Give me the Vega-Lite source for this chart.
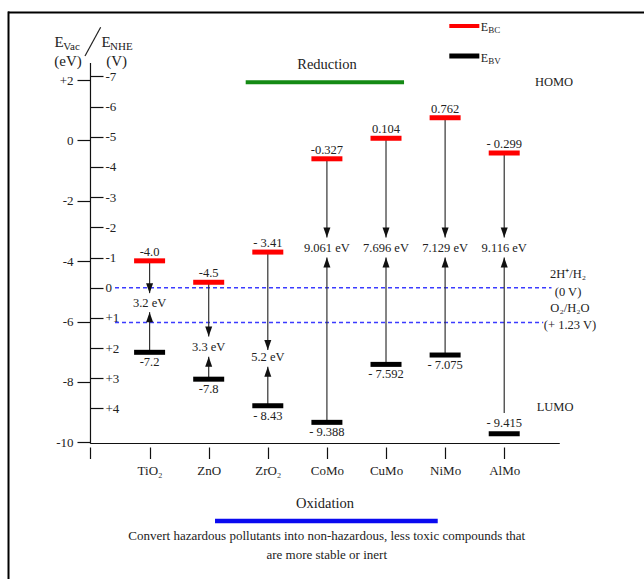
{
  "$schema": "https://vega.github.io/schema/vega-lite/v6.json",
  "width": 644,
  "height": 579,
  "autosize": {"type": "none"},
  "padding": 0,
  "background": "white",
  "config": {
    "font": "Liberation Serif",
    "view": {"stroke": null},
    "text": {"font": "Liberation Serif", "color": "#222"}
  },
  "datasets": {
    "mat": [
      {"i": 1, "name": "TiO2", "cb": -3.99, "cb_lab": "-4.0", "vb": -7.02, "vb_from": -7.02, "vb_lab": "-7.2", "gap": "3.2 eV", "gap_y": -5.38, "cb_tip": -5.06, "vb_tip": -5.69},
      {"i": 2, "name": "ZnO", "cb": -4.70, "cb_lab": "-4.5", "vb": -7.91, "vb_from": -7.91, "vb_lab": "-7.8", "gap": "3.3 eV", "gap_y": -6.85, "cb_tip": -6.50, "vb_tip": -7.17},
      {"i": 3, "name": "ZrO2", "cb": -3.70, "cb_lab": "- 3.41", "vb": -8.79, "vb_from": -8.79, "vb_lab": "- 8.43", "gap": "5.2 eV", "gap_y": -7.19, "cb_tip": -6.94, "vb_tip": -7.50},
      {"i": 4, "name": "CoMo", "cb": -0.61, "cb_lab": "-0.327", "vb": -9.34, "vb_from": -9.34, "vb_lab": "- 9.388", "gap": "9.061 eV", "gap_y": -3.575, "cb_tip": -3.22, "vb_tip": -3.88},
      {"i": 5, "name": "CuMo", "cb": 0.07, "cb_lab": "0.104", "vb": -7.42, "vb_from": -7.42, "vb_lab": "- 7.592", "gap": "7.696 eV", "gap_y": -3.575, "cb_tip": -3.22, "vb_tip": -3.88},
      {"i": 6, "name": "NiMo", "cb": 0.75, "cb_lab": "0.762", "vb": -7.11, "vb_from": -7.11, "vb_lab": "- 7.075", "gap": "7.129 eV", "gap_y": -3.575, "cb_tip": -3.22, "vb_tip": -3.88},
      {"i": 7, "name": "AlMo", "cb": -0.42, "cb_lab": "- 0.299", "vb": -9.72, "vb_from": -9.03, "vb_lab": "- 9.415", "gap": "9.116 eV", "gap_y": -3.575, "cb_tip": -3.22, "vb_tip": -3.88}
    ]
  },
  "resolve": {"scale": {"x": "shared", "y": "shared"}, "axis": {"x": "independent", "y": "independent"}},
  "layer": [
    {
      "data": {"values": [{"x": 0, "y": 2.56, "y2": -10.05}]},
      "mark": {"type": "rule", "color": "#111", "strokeWidth": 1.2},
      "encoding": {
        "x": {"field": "x", "type": "quantitative",
          "scale": {"domain": [-1.531, 9.365], "nice": false, "zero": false},
          "axis": {"orient": "bottom", "offset": -132, "values": [0, 1, 2, 3, 4, 5, 6, 7], "domain": false, "grid": false,
            "tickSize": 11.5, "tickColor": "#111", "tickWidth": 1.2, "labelPadding": 6, "labelFont": "Liberation Serif", "labelFontSize": 13, "labelColor": "#222",
            "labelExpr": "['', 'TiO₂', 'ZnO', 'ZrO₂', 'CoMo', 'CuMo', 'NiMo', 'AlMo'][datum.value]", "labelOverlap": false, "labelFlush": false, "title": null}},
        "y": {"field": "y", "type": "quantitative",
          "scale": {"domain": [-14.529, 4.650], "nice": false, "zero": false},
          "axis": {"orient": "left", "offset": -90.5, "values": [2, 0, -2, -4, -6, -8, -10], "domain": false, "grid": false,
            "tickSize": 13.5, "tickColor": "#111", "tickWidth": 1.2, "labelPadding": 4, "labelFont": "Liberation Serif", "labelFontSize": 13, "labelColor": "#222",
            "labelExpr": "datum.value > 0 ? '+' + datum.value : '' + datum.value", "labelOverlap": false, "labelFlush": false, "title": null}},
        "y2": {"field": "y2"}
      }
    },
    {
      "data": {"values": [{"x": 0, "x2": 7.94, "y": -10.04}]},
      "mark": {"type": "rule", "color": "#111", "strokeWidth": 1.2},
      "encoding": {
        "x": {"field": "x", "type": "quantitative", "axis": null},
        "x2": {"field": "x2"},
        "y": {"field": "y", "type": "quantitative",
          "axis": {"orient": "right", "offset": -553.5, "values": [2.12, 1.12, 0.12, -0.88, -1.88, -2.88, -3.88, -4.88, -5.88, -6.88, -7.88, -8.88], "domain": false, "grid": false,
            "tickSize": 12.5, "tickColor": "#111", "tickWidth": 1.2, "labelPadding": 2, "labelFont": "Liberation Serif", "labelFontSize": 13, "labelColor": "#222",
            "labelExpr": "round(-4.88 - datum.value) > 0 ? '+' + round(-4.88 - datum.value) : '' + round(-4.88 - datum.value)", "labelOverlap": false, "labelFlush": false, "title": null}}
      }
    },
    {
      "data": {"values": [{"x": -1.396, "x2": 9.6, "y": 4.236, "y2": 4.236}, {"x": -1.387, "x2": -1.387, "y": 4.27, "y2": -15}]},
      "mark": {"type": "rule", "color": "#000", "strokeWidth": 2},
      "encoding": {
        "x": {"field": "x", "type": "quantitative", "axis": null},
        "x2": {"field": "x2"},
        "y": {"field": "y", "type": "quantitative", "axis": null},
        "y2": {"field": "y2"}
      }
    },
    {
      "data": {"values": [{"x": 0.415, "x2": 7.80, "y": -4.88}, {"x": 0.415, "x2": 7.66, "y": -6.03}]},
      "mark": {"type": "rule", "color": "#3b3bff", "strokeWidth": 1.5, "strokeDash": [4, 3]},
      "encoding": {
        "x": {"field": "x", "type": "quantitative", "axis": null},
        "x2": {"field": "x2"},
        "y": {"field": "y", "type": "quantitative", "axis": null}
      }
    },
    {
      "data": {"values": [{"x": -0.093, "x2": 0.172, "y": 2.795, "y2": 3.745}]},
      "mark": {"type": "rule", "color": "#222", "strokeWidth": 1.2},
      "encoding": {
        "x": {"field": "x", "type": "quantitative", "axis": null},
        "x2": {"field": "x2"},
        "y": {"field": "y", "type": "quantitative", "axis": null},
        "y2": {"field": "y2"}
      }
    },
    {
      "data": {"values": [{"x": 2.626, "x2": 5.305, "y": 1.924}]},
      "mark": {"type": "rule", "color": "#148a14", "strokeWidth": 4},
      "encoding": {
        "x": {"field": "x", "type": "quantitative", "axis": null},
        "x2": {"field": "x2"},
        "y": {"field": "y", "type": "quantitative", "axis": null}
      }
    },
    {
      "data": {"values": [{"x": 2.107, "x2": 5.875, "y": -12.607}]},
      "mark": {"type": "rule", "color": "#0a0af0", "strokeWidth": 4.5},
      "encoding": {
        "x": {"field": "x", "type": "quantitative", "axis": null},
        "x2": {"field": "x2"},
        "y": {"field": "y", "type": "quantitative", "axis": null}
      }
    },
    {
      "data": {"values": [{"x": 6.071, "x2": 6.579, "y": 3.789}]},
      "mark": {"type": "rule", "color": "#ff0000", "strokeWidth": 4},
      "encoding": {
        "x": {"field": "x", "type": "quantitative", "axis": null},
        "x2": {"field": "x2"},
        "y": {"field": "y", "type": "quantitative", "axis": null}
      }
    },
    {
      "data": {"values": [{"x": 6.071, "x2": 6.579, "y": 2.795}]},
      "mark": {"type": "rule", "color": "#000", "strokeWidth": 5},
      "encoding": {
        "x": {"field": "x", "type": "quantitative", "axis": null},
        "x2": {"field": "x2"},
        "y": {"field": "y", "type": "quantitative", "axis": null}
      }
    },
    {
      "data": {"name": "mat"},
      "mark": {"type": "rule", "color": "#333", "strokeWidth": 1.2},
      "encoding": {
        "x": {"field": "i", "type": "quantitative", "axis": null},
        "y": {"field": "cb", "type": "quantitative", "axis": null},
        "y2": {"field": "cb_tip"}
      }
    },
    {
      "data": {"name": "mat"},
      "mark": {"type": "rule", "color": "#333", "strokeWidth": 1.2},
      "encoding": {
        "x": {"field": "i", "type": "quantitative", "axis": null},
        "y": {"field": "vb_from", "type": "quantitative", "axis": null},
        "y2": {"field": "vb_tip"}
      }
    },
    {
      "data": {"name": "mat"},
      "mark": {"type": "point", "shape": "M-0.35,-1L0.35,-1L0,0Z", "size": 400, "filled": true, "color": "#111", "opacity": 1, "strokeWidth": 0},
      "encoding": {
        "x": {"field": "i", "type": "quantitative", "axis": null},
        "y": {"field": "cb_tip", "type": "quantitative", "axis": null}
      }
    },
    {
      "data": {"name": "mat"},
      "mark": {"type": "point", "shape": "M-0.35,1L0.35,1L0,0Z", "size": 400, "filled": true, "color": "#111", "opacity": 1, "strokeWidth": 0},
      "encoding": {
        "x": {"field": "i", "type": "quantitative", "axis": null},
        "y": {"field": "vb_tip", "type": "quantitative", "axis": null}
      }
    },
    {
      "data": {"name": "mat"},
      "mark": {"type": "tick", "orient": "horizontal", "color": "#ff0000", "size": 31, "thickness": 5, "opacity": 1},
      "encoding": {
        "x": {"field": "i", "type": "quantitative", "axis": null},
        "y": {"field": "cb", "type": "quantitative", "axis": null}
      }
    },
    {
      "data": {"name": "mat"},
      "mark": {"type": "tick", "orient": "horizontal", "color": "#000", "size": 31, "thickness": 5, "opacity": 1},
      "encoding": {
        "x": {"field": "i", "type": "quantitative", "axis": null},
        "y": {"field": "vb", "type": "quantitative", "axis": null}
      }
    },
    {
      "data": {"name": "mat"},
      "mark": {"type": "text", "fontSize": 12.5, "dy": -9},
      "encoding": {
        "x": {"field": "i", "type": "quantitative", "axis": null},
        "y": {"field": "cb", "type": "quantitative", "axis": null},
        "text": {"field": "cb_lab"}
      }
    },
    {
      "data": {"name": "mat"},
      "transform": [{"filter": "datum.name != 'AlMo'"}],
      "mark": {"type": "text", "fontSize": 12.5, "dy": 10},
      "encoding": {
        "x": {"field": "i", "type": "quantitative", "axis": null},
        "y": {"field": "vb", "type": "quantitative", "axis": null},
        "text": {"field": "vb_lab"}
      }
    },
    {
      "data": {"name": "mat"},
      "transform": [{"filter": "datum.name == 'AlMo'"}],
      "mark": {"type": "text", "fontSize": 12.5, "dy": -11},
      "encoding": {
        "x": {"field": "i", "type": "quantitative", "axis": null},
        "y": {"field": "vb", "type": "quantitative", "axis": null},
        "text": {"field": "vb_lab"}
      }
    },
    {
      "data": {"name": "mat"},
      "mark": {"type": "text", "fontSize": 12.5},
      "encoding": {
        "x": {"field": "i", "type": "quantitative", "axis": null},
        "y": {"field": "gap_y", "type": "quantitative", "axis": null},
        "text": {"field": "gap"}
      }
    },
    {
      "data": {"values": [
        {"x": 4.002, "y": 2.497, "t": "Reduction"},
        {"x": 3.968, "y": -12.044, "t": "Oxidation"}
      ]},
      "mark": {"type": "text", "fontSize": 14.5},
      "encoding": {
        "x": {"field": "x", "type": "quantitative", "axis": null},
        "y": {"field": "y", "type": "quantitative", "axis": null},
        "text": {"field": "t"}
      }
    },
    {
      "data": {"values": [
        {"x": 3.997, "y": -13.104, "t": "Convert hazardous pollutants into non-hazardous, less toxic compounds that"},
        {"x": 3.997, "y": -13.734, "t": "are more stable or inert"}
      ]},
      "mark": {"type": "text", "fontSize": 13},
      "encoding": {
        "x": {"field": "x", "type": "quantitative", "axis": null},
        "y": {"field": "y", "type": "quantitative", "axis": null},
        "text": {"field": "t"}
      }
    },
    {
      "data": {"values": [
        {"x": -0.533, "y": 3.269, "t": "E"},
        {"x": 0.262, "y": 3.269, "t": "E"},
        {"x": -0.381, "y": 2.639, "t": "(eV)"},
        {"x": 0.443, "y": 2.639, "t": "(V)"}
      ]},
      "mark": {"type": "text", "fontSize": 15},
      "encoding": {
        "x": {"field": "x", "type": "quantitative", "axis": null},
        "y": {"field": "y", "type": "quantitative", "axis": null},
        "text": {"field": "t"}
      }
    },
    {
      "data": {"values": [
        {"x": -0.460, "y": 3.103, "t": "Vac"},
        {"x": 0.330, "y": 3.103, "t": "NHE"}
      ]},
      "mark": {"type": "text", "fontSize": 11, "align": "left"},
      "encoding": {
        "x": {"field": "x", "type": "quantitative", "axis": null},
        "y": {"field": "y", "type": "quantitative", "axis": null},
        "text": {"field": "t"}
      }
    },
    {
      "data": {"values": [
        {"x": 7.843, "y": 1.944, "t": "HOMO"},
        {"x": 7.860, "y": -8.821, "t": "LUMO"},
        {"x": 8.080, "y": -4.426, "t": "2H⁺/H₂"},
        {"x": 8.080, "y": -5.012, "t": "(0 V)"},
        {"x": 8.113, "y": -5.562, "t": "O₂/H₂O"},
        {"x": 8.113, "y": -6.115, "t": "(+ 1.23 V)"}
      ]},
      "mark": {"type": "text", "fontSize": 12.5},
      "encoding": {
        "x": {"field": "x", "type": "quantitative", "axis": null},
        "y": {"field": "y", "type": "quantitative", "axis": null},
        "text": {"field": "t"}
      }
    },
    {
      "data": {"values": [
        {"x": 6.663, "y": 3.755, "t": "E"},
        {"x": 6.663, "y": 2.745, "t": "E"}
      ]},
      "mark": {"type": "text", "fontSize": 12, "align": "center"},
      "encoding": {
        "x": {"field": "x", "type": "quantitative", "axis": null},
        "y": {"field": "y", "type": "quantitative", "axis": null},
        "text": {"field": "t"}
      }
    },
    {
      "data": {"values": [
        {"x": 6.73, "y": 3.656, "t": "BC"},
        {"x": 6.73, "y": 2.629, "t": "BV"}
      ]},
      "mark": {"type": "text", "fontSize": 9, "align": "left"},
      "encoding": {
        "x": {"field": "x", "type": "quantitative", "axis": null},
        "y": {"field": "y", "type": "quantitative", "axis": null},
        "text": {"field": "t"}
      }
    }
  ]
}
